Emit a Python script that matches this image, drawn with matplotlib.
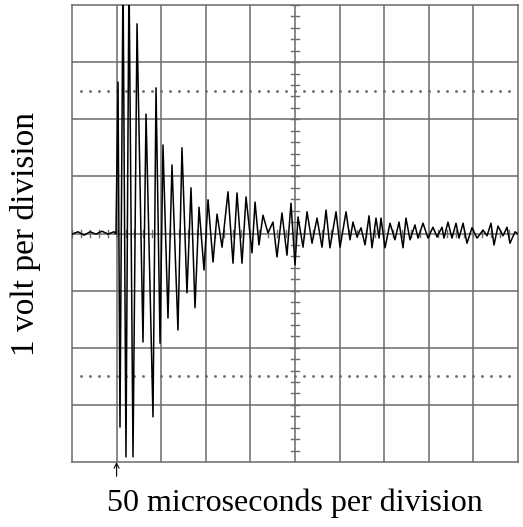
import matplotlib
matplotlib.use('Agg')
import matplotlib.pyplot as plt
import numpy as np

# oscilloscope trace: time in microseconds, volts
t_us = [0, 6.7, 13.5, 20.2, 26.9, 33.6, 40.4, 47.1, 49.3,
        51.6, 53.8, 57.2, 60.5, 63.9, 68.4, 72.9, 79.6, 83.0, 90.8,
        94.2, 98.7, 102.0, 107.6, 112.1, 118.8, 123.3, 128.9, 133.4, 137.9,
        142.4, 148.0, 152.5, 158.1, 162.6, 168.2, 174.9, 180.5, 185.0, 190.6,
        195.1, 201.8, 205.2, 209.6, 214.1, 219.7, 225.3, 229.8, 235.4, 241.0,
        245.5, 250.0, 253.4, 259.0, 263.5, 269.1, 274.7, 280.3, 284.8, 289.2,
        296.0, 300.5, 307.2, 311.7, 315.0, 319.5, 324.0, 328.5, 333.0, 336.3,
        340.8, 344.2, 346.4, 350.9, 356.5, 362.1, 366.6, 371.1, 374.4, 378.9,
        384.5, 387.9, 393.5, 399.1, 404.7, 409.2, 414.8, 417.0, 421.5, 426.0,
        430.5, 433.9, 438.4, 442.8, 448.4, 454.1, 460.8, 465.3, 469.7, 473.1,
        477.6, 483.2, 487.7, 491.0, 496.7, 500.0]
volts = [-0.01, 0.03, -0.03, 0.03, -0.01, 0.04, -0.01, 0.03, -0.01,
         2.65, -3.39, 4.6, -3.91, 4.6, -3.91, 3.67, -1.90, 2.09, -3.21,
         2.55, -1.92, 1.55, -1.48, 1.20, -1.69, 1.50, -1.04, 0.80, -1.30,
         0.46, -0.64, 0.59, -0.50, 0.34, -0.24, 0.73, -0.52, 0.71, -0.52,
         0.64, -0.34, 0.55, -0.20, 0.32, 0.01, 0.20, -0.41, 0.36, -0.38,
         0.53, -0.55, 0.29, -0.24, 0.38, -0.17, 0.27, -0.24, 0.41, -0.25,
         0.38, -0.24, 0.38, -0.11, 0.20, -0.06, 0.10, -0.20, 0.31, -0.25,
         0.27, -0.08, 0.27, -0.25, 0.18, -0.11, 0.20, -0.25, 0.27, -0.11,
         0.15, -0.08, 0.18, -0.08, 0.11, -0.06, 0.11, -0.08, 0.20, -0.08,
         0.18, -0.08, 0.18, -0.17, 0.10, -0.08, 0.06, -0.04, 0.18, -0.20,
         0.13, -0.04, 0.11, -0.17, 0.03, -0.01]

trigger_us = 50
us_per_div = 50
v_per_div = 1
n_xdiv = 10
n_ydiv = 8
dotted_v = [2.5, -2.5]

plt.rcParams['font.family'] = ['Liberation Serif', 'DejaVu Serif']

fig = plt.figure(figsize=(5.23, 5.27), dpi=100)
ax = fig.add_axes([72/523, 1-462/527, 446/523, 457/527])

xmax = us_per_div*n_xdiv
ymax = v_per_div*n_ydiv/2
ax.set_xlim(0, xmax)
ax.set_ylim(-ymax, ymax)

gcol = '#6a6a6a'
for x in np.arange(us_per_div, xmax, us_per_div):
    ax.axvline(x, color=gcol, lw=1.1, zorder=1)
for y in np.arange(-ymax+v_per_div, ymax, v_per_div):
    ax.axhline(y, color=gcol, lw=1.1, zorder=1)

# dotted reference lines
xd = np.arange(10, xmax, 10)
for yv in dotted_v:
    ax.plot(xd, np.full_like(xd, yv, dtype=float), ls='none', marker='s',
            ms=0.9, color=gcol, zorder=1)

# minor ticks on the centre axes
xc = xmax/2
for y in np.arange(-ymax, ymax+0.01, v_per_div/5):
    ax.plot([xc-4, xc+4], [y, y], color=gcol, lw=1.0, zorder=1)
for x in np.arange(0, xmax+0.01, us_per_div/5):
    ax.plot([x, x], [-0.07, 0.07], color=gcol, lw=1.0, zorder=1)

ax.plot(t_us, volts, color='black', lw=1.1, zorder=3)

for s in ax.spines.values():
    s.set_color(gcol)
    s.set_linewidth(1.1)
ax.set_xticks([])
ax.set_yticks([])

ax.annotate('', xy=(trigger_us, -ymax), xytext=(trigger_us, -ymax-0.25),
            arrowprops=dict(arrowstyle='->', color='black', lw=0.8,
                            shrinkA=0, shrinkB=0, mutation_scale=9),
            annotation_clip=False)

ax.set_xlabel('50 microseconds per division', fontsize=23, labelpad=19)
ax.set_ylabel('1 volt per division', fontsize=24, labelpad=22)

fig.savefig('out.png', dpi=100)
